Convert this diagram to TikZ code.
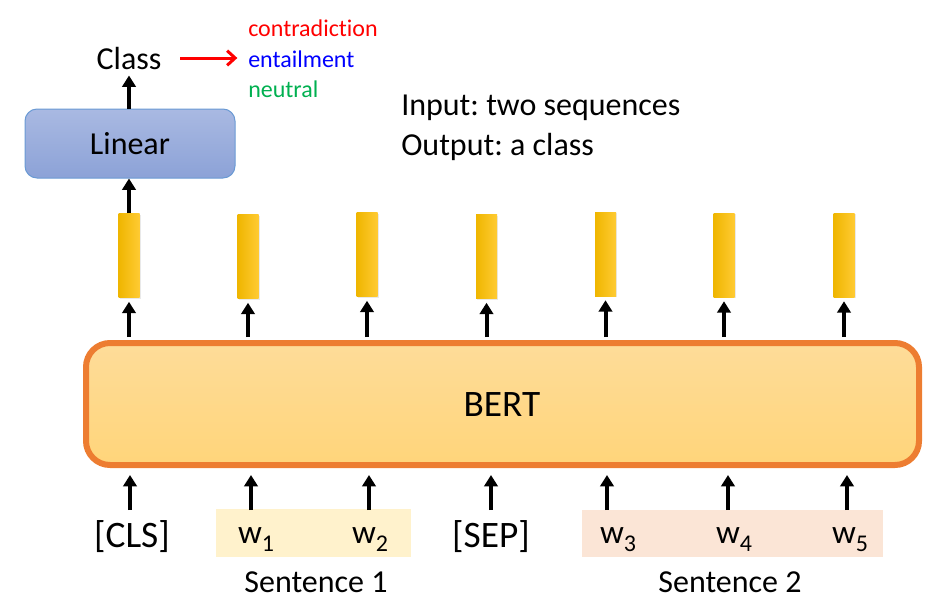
\documentclass[tikz,border=0pt]{standalone}
\usepackage{fontspec}
\setmainfont{Carlito}[Ligatures=NoCommon]
\usetikzlibrary{arrows.meta,calc}
\definecolor{linTop}{HTML}{A9B9E2}
\definecolor{linBot}{HTML}{8CA2D7}
\definecolor{linBorder}{HTML}{6A9AD4}
\definecolor{bertTop}{HTML}{FEDC99}
\definecolor{bertBot}{HTML}{FFD57A}
\definecolor{bertBorder}{HTML}{ED7D31}
\definecolor{barL}{HTML}{EFB600}
\definecolor{barR}{HTML}{FFCB33}
\definecolor{sentA}{HTML}{FFF2CC}
\definecolor{sentB}{HTML}{FBE5D6}
\definecolor{neutralGreen}{HTML}{00B050}
\frenchspacing
\tikzset{
  arr/.style={line width=3pt,-{Triangle[length=8.5pt,width=10pt]}},
  vecbar/.style={minimum width=15.75pt,minimum height=63pt,inner sep=0pt,
     left color=barL,right color=barR},
  barshadow/.style={fill=black!25,opacity=0.35,minimum width=15.75pt,minimum height=63pt,inner sep=0pt},
  txt/.style={inner sep=0pt,anchor=base,font=\fontsize{24pt}{28pt}\selectfont},
  bigtxt/.style={inner sep=0pt,anchor=base,font=\fontsize{28pt}{32pt}\selectfont},
  small/.style={inner sep=0pt,anchor=base west,font=\fontsize{18pt}{21pt}\selectfont},
  tok/.style={inner sep=0pt,anchor=base,font=\fontsize{28pt}{32pt}\selectfont,text height=26.25pt},
  wtok/.style={inner sep=0pt,anchor=base,font=\fontsize{25pt}{29pt}\selectfont,text height=25.5pt},
}
\newcommand{\wsub}[1]{w\raisebox{-6pt}{\fontsize{18pt}{20pt}\selectfont #1}}
\begin{document}
\begin{tikzpicture}[x=0.75pt,y=-0.75pt]
\useasboundingbox (0,0) rectangle (938,607);
% sentence highlights
\node[fill=sentA,minimum width=146.25pt,minimum height=36pt,inner sep=0pt] (s1bg) at (313.5,532.5) {};
\node[fill=sentB,minimum width=225.75pt,minimum height=35.25pt,inner sep=0pt] (s2bg) at (732.5,533) {};
% BERT
\node[draw=bertBorder,line width=4.5pt,rounded corners=18pt,top color=bertTop,bottom color=bertBot,
      minimum width=624.75pt,minimum height=91.5pt,inner sep=0pt] (bert) at (502.5,404) {};
\node[bigtxt] (berttext) at (502,416) {BERT};
% bars with shadows
\foreach \i/\x/\y in {1/129/255.5, 2/248/256.5, 3/367/254.5, 4/486.5/256.5, 5/605.5/254, 6/724/255, 7/844/255}{
  \node[barshadow] (sh\i) at (\x+1,\y+1.2) {};
  \node[vecbar] (b\i) at (\x,\y) {};
}
% Linear
\node[draw=linBorder,line width=0.75pt,rounded corners=9pt,top color=linTop,bottom color=linBot,
      minimum width=157.5pt,minimum height=51.75pt,inner sep=0pt] (lin) at (130,143.5) {};
\node[txt] (lintext) at (130,154) {Linear};
% class and labels
\node[txt] (class) at (129,69) {Class};
\node[small,text=red] (contra) at (248,36) {contradiction};
\node[small,text=blue] (ent) at (248,67) {entailment};
\node[small,text=neutralGreen] (neu) at (248,97) {neutral};
\node[txt,anchor=base west] (inp) at (401,115) {Input: two sequences};
\node[txt,anchor=base west] (outp) at (401,155) {Output: a class};
% tokens
\node[tok] (t1) at (132,547) {[CLS]};
\node[wtok] (t2) at (256,543) {\wsub{1}};
\node[wtok] (t3) at (370,543) {\wsub{2}};
\node[tok] (t4) at (491,547) {[SEP]};
\node[wtok] (t5) at (618,543) {\wsub{3}};
\node[wtok] (t6) at (734,543) {\wsub{4}};
\node[wtok] (t7) at (850,543) {\wsub{5}};
\node[txt] (sent1) at (316,592) {Sentence 1};
\node[txt] (sent2) at (730,592) {Sentence 2};
% input arrows
\foreach \i/\x in {1/130,2/251,3/369,4/491,5/607,6/728,7/847}{
  \draw[arr,shorten >=5.25pt] (\x,510) coordinate (in\i) -- (in\i |- bert.south);
}
% output arrows
\foreach \i in {1,...,7}{
  \draw[arr,shorten <=2.25pt,shorten >=3pt] (bert.north -| b\i) -- (b\i.south);
}
\draw[arr] (b1.north) -- (b1.north |- lin.south);
\draw[arr,shorten >=4.5pt] (b1.north |- lin.north) -- (b1.north |- class.south);
\draw[red,line width=2.25pt,-{Straight Barb[length=6pt,width=11pt]},shorten <=14pt,shorten >=8pt] (class.east) -- (class.east -| ent.west);
\end{tikzpicture}
\end{document}
